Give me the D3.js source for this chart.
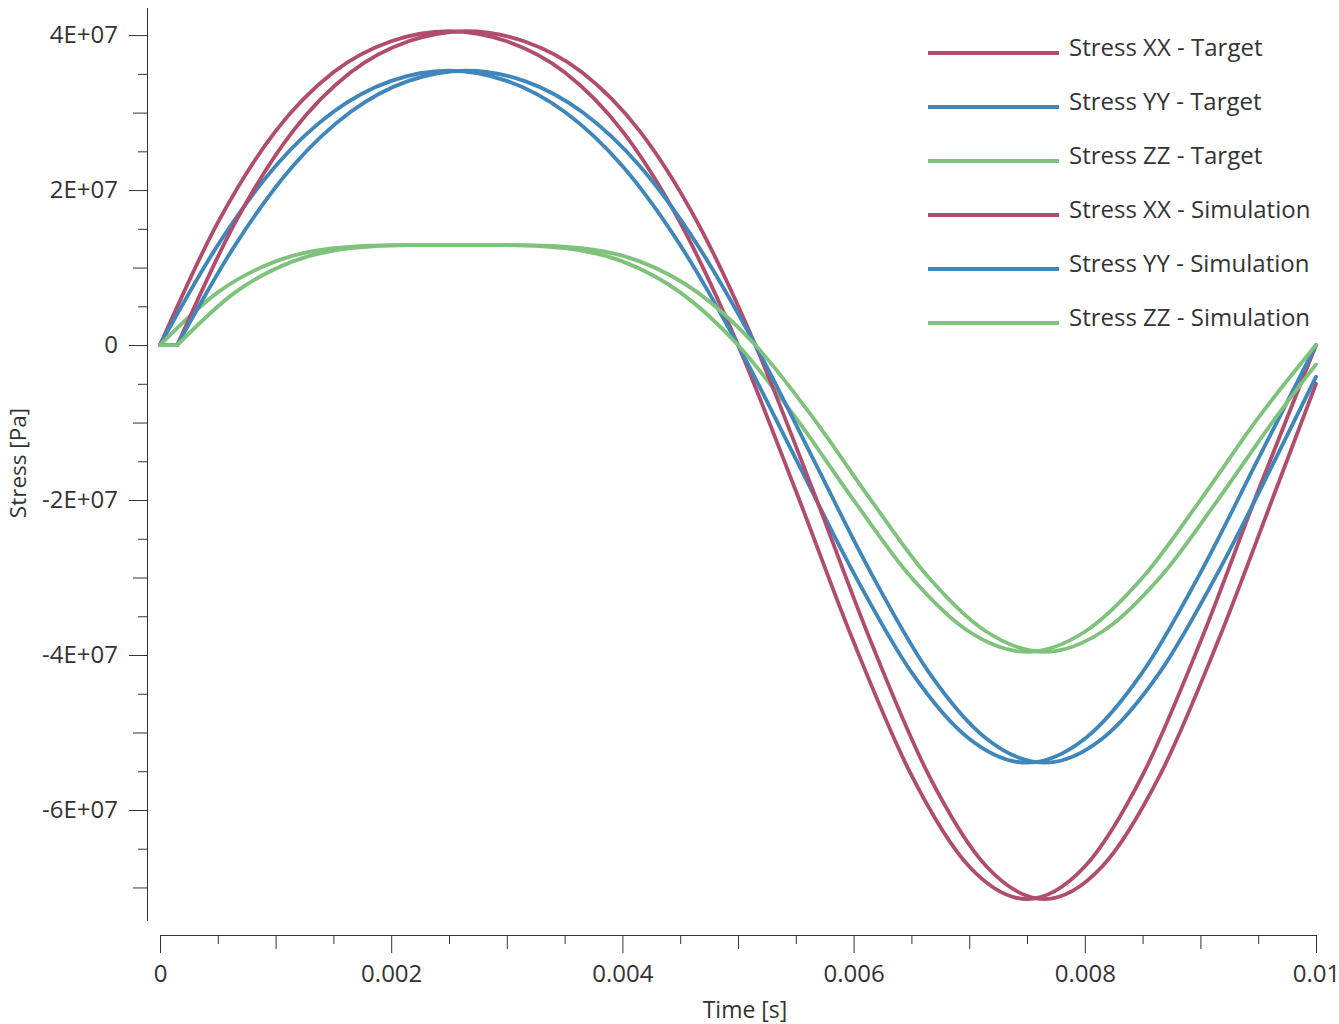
<!DOCTYPE html>
<html>
<head>
<meta charset="utf-8">
<script src="https://cdn.jsdelivr.net/npm/d3@7"></script>
<style>
  body { margin: 0; background: #fff; }
  text { font-family: "Segoe UI", "Open Sans", "Noto Sans", sans-serif; fill: #333; }
</style>
</head>
<body>
<script>
var width = 1339;
var height = 1024;

// time [s] of the target curves
var timeTarget = [0, 0.0005, 0.001, 0.0015, 0.002, 0.0025, 0.003, 0.0035, 0.004, 0.0045, 0.005,
                  0.0055, 0.006, 0.0065, 0.007, 0.0075, 0.008, 0.0085, 0.009, 0.0095, 0.01];
// stress [Pa], target
var xxTarget = [0, 1.58e7, 2.76e7, 3.52e7, 3.92e7, 4.05e7, 3.92e7, 3.52e7, 2.76e7, 1.58e7, 0,
                -1.88e7, -3.83e7, -5.55e7, -6.73e7, -7.15e7, -6.73e7, -5.55e7, -3.83e7, -1.88e7, 0];
var yyTarget = [0, 1.29e7, 2.31e7, 3.01e7, 3.41e7, 3.54e7, 3.41e7, 3.01e7, 2.31e7, 1.29e7, 0,
                -1.47e7, -2.94e7, -4.22e7, -5.08e7, -5.39e7, -5.08e7, -4.22e7, -2.94e7, -1.47e7, 0];
var zzTarget = [0, 0.68e7, 1.08e7, 1.25e7, 1.29e7, 1.29e7, 1.29e7, 1.25e7, 1.08e7, 0.68e7, 0,
                -0.94e7, -2.00e7, -3.00e7, -3.70e7, -3.96e7, -3.70e7, -3.00e7, -2.00e7, -0.94e7, 0];

// time [s] of the simulation curves (they start a little later)
var timeSim = [0, 0.00015, 0.00065, 0.00115, 0.00165, 0.00215, 0.00265, 0.00315, 0.00365, 0.00415, 0.00465,
               0.00515, 0.00565, 0.00615, 0.00665, 0.00715, 0.00765, 0.00815, 0.00865, 0.00915, 0.00965, 0.01];
var xxSim = [0, 0, 1.58e7, 2.76e7, 3.52e7, 3.92e7, 4.05e7, 3.92e7, 3.52e7, 2.76e7, 1.58e7,
             0, -1.88e7, -3.83e7, -5.55e7, -6.73e7, -7.15e7, -6.73e7, -5.55e7, -3.83e7, -1.88e7, -0.50e7];
var yySim = [0, 0, 1.29e7, 2.31e7, 3.01e7, 3.41e7, 3.54e7, 3.41e7, 3.01e7, 2.31e7, 1.29e7,
             0, -1.47e7, -2.94e7, -4.22e7, -5.08e7, -5.39e7, -5.08e7, -4.22e7, -2.94e7, -1.47e7, -0.41e7];
var zzSim = [0, 0, 0.68e7, 1.08e7, 1.25e7, 1.29e7, 1.29e7, 1.29e7, 1.25e7, 1.08e7, 0.68e7,
             0, -0.94e7, -2.00e7, -3.00e7, -3.70e7, -3.96e7, -3.70e7, -3.00e7, -2.00e7, -0.94e7, -0.25e7];

var seriesNames = ["Stress XX - Target", "Stress YY - Target", "Stress ZZ - Target",
                   "Stress XX - Simulation", "Stress YY - Simulation", "Stress ZZ - Simulation"];
var colors = ["#b04d6d", "#3f86bb", "#7fc27c", "#b04d6d", "#3f86bb", "#7fc27c"];

var xMajor = [0, 0.002, 0.004, 0.006, 0.008, 0.01];
var xMid = [0.001, 0.003, 0.005, 0.007, 0.009];
var xMinor = [0.0005, 0.0015, 0.0025, 0.0035, 0.0045, 0.0055, 0.0065, 0.0075, 0.0085, 0.0095];
var yMajor = [-6e7, -4e7, -2e7, 0, 2e7, 4e7];
var yMid = [-7e7, -5e7, -3e7, -1e7, 1e7, 3e7];
var yMinor = [-6.5e7, -5.5e7, -4.5e7, -3.5e7, -2.5e7, -1.5e7, -0.5e7, 0.5e7, 1.5e7, 2.5e7, 3.5e7];

var series = [
  {t: timeTarget, v: xxTarget}, {t: timeTarget, v: yyTarget}, {t: timeTarget, v: zzTarget},
  {t: timeSim, v: xxSim}, {t: timeSim, v: yySim}, {t: timeSim, v: zzSim}
];

var svg = d3.select("body").append("svg")
  .attr("width", width)
  .attr("height", height);

var xScale = d3.scaleLinear().domain([0, 0.01]).range([160, 1316]);
var yScale = d3.scaleLinear().domain([-7.42e7, 4.35e7]).range([920, 8]);

function yFmt(d) {
  if (d === 0) return "0";
  return (d / 1e7) + "E+07";
}

// y axis
function yAxisLayer(vals, size, fmt) {
  var g = svg.append("g")
    .attr("transform", "translate(147,0)")
    .call(d3.axisLeft(yScale).tickValues(vals).tickSize(size).tickSizeOuter(0).tickPadding(11).tickFormat(fmt));
  g.selectAll("line").attr("stroke", "#333");
  g.select(".domain").attr("stroke", "#333");
  g.selectAll("text").attr("font-size", 24).attr("fill", "#333")
    .style("font-family", '"Segoe UI", "Open Sans", "Noto Sans", sans-serif');
  return g;
}
yAxisLayer(yMajor, 18, yFmt);
yAxisLayer(yMid, 14, function() { return ""; });
yAxisLayer(yMinor, 9, function() { return ""; });

// x axis
function xAxisLayer(vals, size, fmt) {
  var g = svg.append("g")
    .attr("transform", "translate(0,935)")
    .call(d3.axisBottom(xScale).tickValues(vals).tickSize(size).tickSizeOuter(0).tickPadding(12).tickFormat(fmt));
  g.selectAll("line").attr("stroke", "#333");
  g.select(".domain").attr("stroke", "#333");
  g.selectAll("text").attr("font-size", 24).attr("fill", "#333")
    .style("font-family", '"Segoe UI", "Open Sans", "Noto Sans", sans-serif');
  return g;
}
xAxisLayer(xMajor, 18, function(d) { return d === 0 ? "0" : d3.format("")(+d.toPrecision(3)); });
xAxisLayer(xMid, 14, function() { return ""; });
xAxisLayer(xMinor, 9, function() { return ""; });

svg.append("text")
  .attr("x", 745)
  .attr("y", 1018)
  .attr("text-anchor", "middle")
  .attr("font-size", 23)
  .text("Time [s]");

svg.append("text")
  .attr("transform", "translate(26,463) rotate(-90)")
  .attr("text-anchor", "middle")
  .attr("font-size", 22.5)
  .text("Stress [Pa]");

// curves
var line = d3.line()
  .x(function(d) { return xScale(d[0]); })
  .y(function(d) { return yScale(d[1]); })
  .curve(d3.curveMonotoneX);
var flat = d3.line()
  .x(function(d) { return xScale(d[0]); })
  .y(function(d) { return yScale(d[1]); });

series.forEach(function(s, i) {
  var pts = s.t.map(function(t, j) { return [t, s.v[j]]; });
  var d;
  if (pts[1][1] === 0 && pts[0][1] === 0) {
    // flat start, then the curve from the kink on
    d = flat(pts.slice(0, 2)) + line(pts.slice(1));
  } else {
    d = line(pts);
  }
  svg.append("path")
    .attr("d", d)
    .attr("fill", "none")
    .attr("stroke", colors[i])
    .attr("stroke-width", 3.8)
    .attr("stroke-linejoin", "round")
    .attr("stroke-linecap", "round");
});

// legend
var legend = svg.selectAll(".legend")
  .data(seriesNames)
  .enter()
  .append("g")
  .attr("class", "legend")
  .attr("transform", function(d, i) { return "translate(0," + (53 + i * 54) + ")"; });
legend.append("line")
  .attr("x1", 928).attr("x2", 1059)
  .attr("y1", 0).attr("y2", 0)
  .attr("stroke", function(d, i) { return colors[i]; })
  .attr("stroke-width", 4);
legend.append("text")
  .attr("x", 1069)
  .attr("y", 3)
  .attr("font-size", 24)
  .text(function(d) { return d; });
</script>
</body>
</html>
